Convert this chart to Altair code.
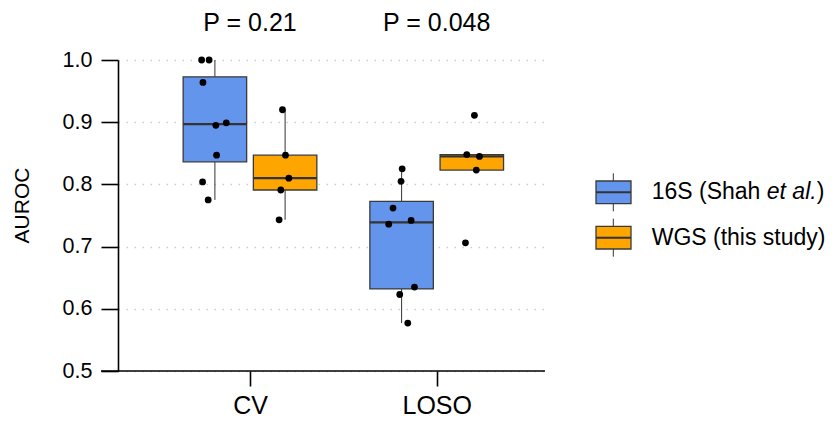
import altair as alt
import pandas as pd

# ---------------- data ----------------
methods = ["CV", "LOSO"]
sources = ["16S", "WGS"]
source_colors = ["#6495ED", "#FFA500"]
p_labels = ["P = 0.21", "P = 0.048"]

cv_16s = [1.000, 1.000, 0.964, 0.895, 0.899, 0.847, 0.804, 0.775]
cv_16s_jit = [-0.071, -0.031, -0.064, 0.005, 0.061, 0.009, -0.066, -0.036]
cv_wgs = [0.920, 0.847, 0.810, 0.791, 0.743]
cv_wgs_jit = [-0.014, 0.002, 0.020, -0.023, -0.032]
loso_16s = [0.825, 0.805, 0.762, 0.742, 0.736, 0.635, 0.623, 0.577]
loso_16s_jit = [0.003, -0.003, -0.046, 0.051, -0.069, 0.069, -0.010, 0.033]
loso_wgs = [0.911, 0.848, 0.845, 0.823, 0.706]
loso_wgs_jit = [0.014, -0.027, 0.041, 0.024, -0.034]

y_ticks = [0.5, 0.6, 0.7, 0.8, 0.9, 1.0]

DODGE = 0.188
HALF = 0.17
FONT = "Liberation Sans"

groups = [
    ("CV", "16S", cv_16s, cv_16s_jit),
    ("CV", "WGS", cv_wgs, cv_wgs_jit),
    ("LOSO", "16S", loso_16s, loso_16s_jit),
    ("LOSO", "WGS", loso_wgs, loso_wgs_jit),
]
rows = []
for m, s, vals, jits in groups:
    for v, j in zip(vals, jits):
        rows.append({"method": m, "source": s, "value": v, "jit": j})
df = pd.DataFrame(rows)
df["pos"] = df["method"].map({m: i + 1 for i, m in enumerate(methods)}) + \
    df["source"].map({sources[0]: -DODGE, sources[1]: DODGE})
df["px"] = df["pos"] + df["jit"]

pdf = pd.DataFrame({"xpos": [i + 1 for i in range(len(methods))], "label": p_labels})

W, H = 427, 311
XDOM = [0.293, 2.580]
xscale = alt.Scale(domain=XDOM, nice=False, zero=False)
yscale = alt.Scale(domain=[0.5, 1.0], nice=False, zero=False)

label_expr = " : ".join(
    [f"datum.value == {i + 1} ? '{m}'" for i, m in enumerate(methods)] + ["''"]
)

xaxis = alt.Axis(values=[i + 1 for i in range(len(methods))], labelExpr=label_expr,
                 title=None, grid=False, domain=False, ticks=True, tickSize=15,
                 tickWidth=1.6, tickColor="black", labelFontSize=25, labelFont=FONT,
                 labelColor="black", labelPadding=7)
yaxis = alt.Axis(values=y_ticks, format=".1f", title="AUROC", grid=True,
                 gridDash=[1.5, 6.5], gridColor="#cfcfcf", gridWidth=1.5,
                 domain=True, domainColor="black", domainWidth=1.6,
                 tickSize=17, tickWidth=1.6, tickColor="black",
                 labelFontSize=21.5, labelFont=FONT, labelColor="black", labelPadding=9,
                 titleFontSize=21, titleFont=FONT, titleFontWeight="normal",
                 titleColor="black", titleX=-86, titleY=145, titleBaseline="bottom")

base = alt.Chart(df)

stats = base.transform_joinaggregate(
    Q1="q1(value)", Q3="q3(value)", MED="median(value)", groupby=["method", "source"]
).transform_calculate(
    lo="datum.Q1 - 1.5 * (datum.Q3 - datum.Q1)",
    hi="datum.Q3 + 1.5 * (datum.Q3 - datum.Q1)",
).transform_filter(
    "datum.value >= datum.lo && datum.value <= datum.hi"
).transform_aggregate(
    wmin="min(value)", wmax="max(value)", q1="min(Q1)", q3="min(Q3)", med="min(MED)",
    groupby=["method", "source", "pos"],
).transform_calculate(
    xl=f"datum.pos - {HALF}", xr=f"datum.pos + {HALF}"
)

whisk_lo = stats.mark_rule(color="#333333", strokeWidth=1).encode(
    x=alt.X("pos:Q", scale=xscale, axis=xaxis),
    y=alt.Y("wmin:Q", scale=yscale, axis=yaxis),
    y2="q1:Q",
)
whisk_hi = stats.mark_rule(color="#333333", strokeWidth=1).encode(
    x=alt.X("pos:Q", scale=xscale), y=alt.Y("q3:Q", scale=yscale), y2="wmax:Q"
)
box = stats.mark_bar(stroke="#3a3a3a", strokeWidth=1.3, opacity=1).encode(
    x=alt.X("xl:Q", scale=xscale), x2="xr:Q",
    y=alt.Y("q1:Q", scale=yscale), y2="q3:Q",
    color=alt.Color("source:N", scale=alt.Scale(domain=sources, range=source_colors),
                    legend=None),
)
median = stats.mark_rule(color="#333333", strokeWidth=2.3).encode(
    x=alt.X("xl:Q", scale=xscale), x2="xr:Q", y=alt.Y("med:Q", scale=yscale)
)
points = base.mark_circle(color="black", size=46, opacity=1).encode(
    x=alt.X("px:Q", scale=xscale), y=alt.Y("value:Q", scale=yscale)
)
ptext = alt.Chart(pdf).mark_text(fontSize=25, font=FONT, color="black",
                                 baseline="alphabetic", align="center").encode(
    x=alt.X("xpos:Q", scale=xscale), y=alt.value(-29), text="label:N"
)

one = pd.DataFrame({"a": [0]})
xline = alt.Chart(one).mark_rule(color="black", strokeWidth=1.6).encode(
    x=alt.value(-17), x2=alt.value(W), y=alt.value(H), y2=alt.value(H)
)

# ----- manual legend (to allow italic "et al.") -----
legend_layers = []
centers = [132.3, 177.7]
for i, c in enumerate(centers):
    legend_layers.append(alt.Chart(one).mark_rule(color="#333333", strokeWidth=1).encode(
        x=alt.value(495.3), x2=alt.value(495.3), y=alt.value(c - 19), y2=alt.value(c + 19)))
    legend_layers.append(alt.Chart(one).mark_rect(fill=source_colors[i], stroke="#3a3a3a",
                                                  strokeWidth=1.3).encode(
        x=alt.value(478), x2=alt.value(513), y=alt.value(c - 11.3), y2=alt.value(c + 11.3)))
    legend_layers.append(alt.Chart(one).mark_rule(color="#333333", strokeWidth=2).encode(
        x=alt.value(478), x2=alt.value(513), y=alt.value(c), y2=alt.value(c)))

LFS = 23
tx = 533.7
seg1 = "16S (Shah "
seg2 = "et al."
w1 = 5.003 * LFS
w2 = 2.168 * LFS
legend_layers.append(alt.Chart(one).mark_text(text=seg1, fontSize=LFS, font=FONT,
                                              align="left", baseline="middle",
                                              color="black").encode(
    x=alt.value(tx), y=alt.value(centers[0])))
legend_layers.append(alt.Chart(one).mark_text(text=seg2, fontSize=LFS, font=FONT,
                                              fontStyle="italic", align="left",
                                              baseline="middle", color="black").encode(
    x=alt.value(tx + w1), y=alt.value(centers[0])))
legend_layers.append(alt.Chart(one).mark_text(text=")", fontSize=LFS, font=FONT,
                                              align="left", baseline="middle",
                                              color="black").encode(
    x=alt.value(tx + w1 + w2), y=alt.value(centers[0])))
legend_layers.append(alt.Chart(one).mark_text(text="WGS (this study)", fontSize=LFS,
                                              font=FONT, align="left", baseline="middle",
                                              color="black").encode(
    x=alt.value(tx), y=alt.value(centers[1])))

chart = alt.layer(
    whisk_lo, whisk_hi, box, median, points, ptext, xline, *legend_layers
).properties(
    width=W, height=H,
    background="white",
    view=alt.ViewBackground(stroke=None, strokeOpacity=0),
    autosize=alt.AutoSizeParams(type="none"),
    padding={"left": 118, "top": 60, "right": 292, "bottom": 55},
).configure_view(strokeOpacity=0, strokeWidth=0).configure_axisX(grid=False)

chart.save("out.html", embed_options={"renderer": "svg", "actions": False})
